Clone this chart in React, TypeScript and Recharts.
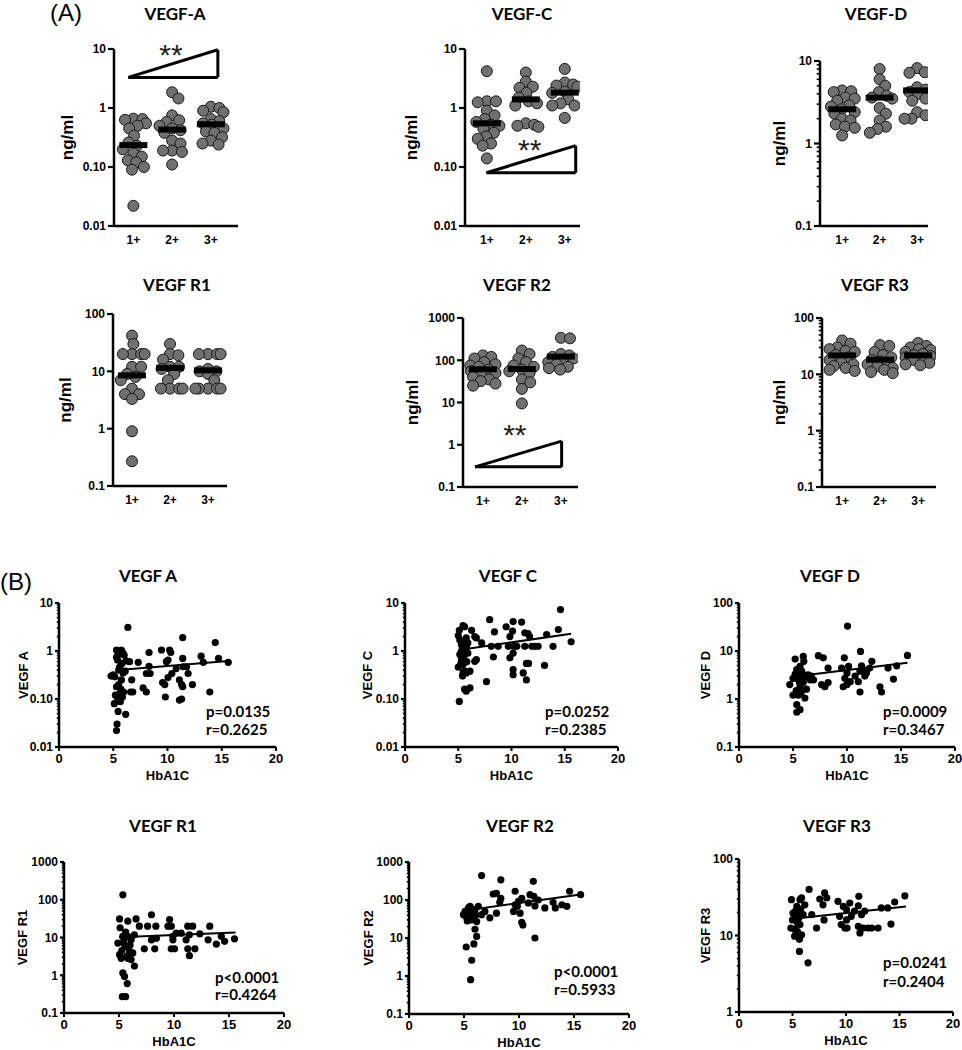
import React from 'react';
import { ScatterChart, Scatter, XAxis, YAxis, ReferenceLine, ReferenceDot } from 'recharts';

const SANS = '"Liberation Sans", Arial, sans-serif';
const TITLE = 'Lato, "Open Sans", sans-serif';

const groupLabels = ['1+', '2+', '3+'];
const hbTicks = [0, 5, 10, 15, 20];

// tick labels for the log axes
const ticks001to10 = ['0.01', '0.10', '1', '10'];
const ticks01to10 = ['0.1', '1', '10'];
const ticks01to100 = ['0.1', '1', '10', '100'];
const ticks01to1000 = ['0.1', '1', '10', '100', '1000'];
const ticks1to100 = ['1', '10', '100'];

// (A) serum levels (ng/ml) by group
const vegfA1 = [0.66, 0.65, 0.63, 0.55, 0.5, 0.45, 0.34, 0.26, 0.23, 0.2, 0.17, 0.15, 0.13, 0.12, 0.1, 0.09, 0.022];
const vegfA2 = [1.85, 1.45, 0.75, 0.62, 0.58, 0.5, 0.45, 0.42, 0.38, 0.28, 0.25, 0.19, 0.19, 0.18, 0.11];
const vegfA3 = [1.05, 1.0, 0.9, 0.85, 0.65, 0.6, 0.55, 0.52, 0.45, 0.4, 0.38, 0.32, 0.28, 0.25, 0.24];
const vegfAMed = [0.235, 0.43, 0.53];

const vegfC1 = [4.2, 1.3, 1.3, 1.25, 0.9, 0.75, 0.65, 0.58, 0.52, 0.5, 0.45, 0.38, 0.33, 0.3, 0.25, 0.23, 0.14];
const vegfC2 = [4.0, 2.8, 2.3, 2.2, 1.8, 1.5, 1.3, 1.2, 1.1, 0.55, 0.52, 0.5, 0.48];
const vegfC3 = [4.6, 2.7, 2.5, 2.4, 2.3, 1.9, 1.8, 1.4, 1.2, 1.1, 1.1, 0.68];
const vegfCMed = [0.55, 1.4, 1.82];

const vegfD1 = [4.4, 4.3, 4.2, 3.6, 3.5, 3.3, 2.9, 2.8, 2.6, 2.4, 2.3, 2.0, 1.9, 1.7, 1.6, 1.55, 1.25];
const vegfD2 = [8.0, 6.0, 5.0, 4.2, 3.8, 3.6, 3.5, 2.7, 2.3, 1.9, 1.6, 1.5, 1.35];
const vegfD3 = [8.2, 7.3, 7.2, 4.8, 4.5, 4.2, 4.0, 3.5, 3.3, 2.4, 2.2, 2.0, 2.0];
const vegfDMed = [2.6, 3.6, 4.4];

const r1G1 = [42, 30, 20, 20, 20, 20, 12, 12, 9, 8, 7, 5, 4, 4, 3.3, 0.9, 0.27];
const r1G2 = [30, 20, 19, 16, 12, 12, 11, 9, 7, 5, 5, 5, 5];
const r1G3 = [20, 20, 20, 20, 11, 10, 10, 9, 7, 5, 5, 5, 5, 5];
const r1Med = [8.5, 11.5, 10.4];

const r2G1 = [130, 120, 110, 90, 80, 75, 70, 60, 55, 50, 45, 40, 35, 32, 28, 25];
const r2G2 = [170, 140, 110, 90, 75, 70, 60, 55, 50, 35, 30, 21, 9.5];
const r2G3 = [340, 330, 140, 130, 120, 110, 100, 90, 80, 70, 65, 60];
const r2Med = [61, 62, 122];

const r3G1 = [40, 35, 30, 28, 26, 25, 22, 20, 18, 16, 15, 14, 13, 12, 11.5];
const r3G2 = [33, 32, 25, 22, 20, 18, 17, 16, 15, 14, 13, 12, 11, 10.5];
const r3G3 = [36, 32, 30, 28, 27, 25, 23, 22, 21, 20, 19, 18, 16, 15, 14.5];
const r3Med = [21.7, 18.2, 21.7];

// trend wedges: left tip, top right, bottom right; star = "**" anchor
const vegfAWedge = [[0.87, 3.3], [3.18, 9.7], [3.18, 3.3]];
const vegfAStar = [1.97, 8.0];
const vegfCWedge = [[0.99, 0.08], [3.28, 0.23], [3.28, 0.08]];
const vegfCStar = [2.1, 0.196];
const r2Wedge = [[0.8, 0.3], [3.02, 1.22], [3.02, 0.3]];
const r2Star = [1.82, 1.75];

// (B) HbA1C vs level
const bVegfA = [
  [4.8, 0.3], [5.0, 0.32], [5.3, 1.05], [5.3, 0.74], [5.4, 0.65], [5.6, 0.47], [5.75, 1.05], [5.9, 0.9],
  [6.0, 0.82], [5.1, 0.08], [5.35, 0.11], [5.6, 0.13], [5.3, 0.18], [5.75, 0.25], [5.9, 0.35], [5.45, 0.055],
  [5.35, 0.03], [5.3, 0.022], [6.15, 0.048], [5.65, 0.088], [5.95, 0.14], [5.15, 0.29], [6.35, 3.1], [6.5, 0.6],
  [6.7, 0.25], [6.8, 0.14], [6.6, 0.14], [7.3, 0.58], [7.75, 0.17], [8.05, 0.14], [8.05, 0.34], [8.3, 0.48],
  [8.4, 0.34], [8.3, 0.93], [9.45, 1.05], [9.55, 0.22], [9.75, 0.2], [9.8, 0.11], [10.05, 0.65], [10.2, 1.05],
  [10.3, 0.93], [9.9, 0.6], [10.4, 0.34], [10.05, 0.28], [10.8, 0.43], [11.1, 0.25], [11.3, 0.2], [11.4, 0.18],
  [11.3, 0.1], [11.1, 0.095], [11.4, 1.9], [11.4, 0.7], [11.45, 0.47], [11.75, 0.47], [11.9, 0.34], [12.3, 0.2],
  [13.1, 0.78], [13.3, 0.58], [13.9, 0.14], [14.4, 1.5], [14.7, 0.7], [15.6, 0.58], [5.5, 0.4], [5.2, 0.12],
  [5.5, 0.2], [5.7, 0.16], [5.8, 0.55], [6.1, 0.38], [5.45, 0.85], [6.2, 0.62], [5.6, 0.095], [5.85, 0.11],
];
const bVegfAFit = [[5.5, 0.4], [15.6, 0.62]];

const bVegfC = [
  [5.0, 2.1], [5.1, 2.7], [5.45, 3.4], [5.6, 3.2], [5.15, 1.7], [5.3, 1.35], [5.45, 1.07], [5.15, 0.85],
  [5.3, 0.66], [5.0, 0.46], [5.45, 0.52], [5.6, 0.85], [5.75, 1.25], [5.75, 1.87], [5.9, 1.47], [5.45, 0.35],
  [5.4, 0.3], [5.6, 0.38], [5.75, 0.35], [6.1, 0.38], [5.6, 0.16], [5.75, 0.145], [6.1, 0.17], [5.1, 0.089],
  [6.25, 2.7], [6.55, 2.0], [6.7, 1.87], [6.55, 0.61], [6.7, 0.66], [5.9, 0.9], [7.2, 1.47], [7.65, 0.23],
  [7.95, 4.5], [8.1, 1.25], [8.3, 0.75], [8.4, 2.5], [8.75, 1.25], [9.5, 3.2], [9.7, 1.25], [9.85, 2.0],
  [9.85, 0.72], [10.1, 2.6], [10.15, 4.1], [10.2, 1.25], [10.15, 0.9], [10.15, 0.41], [10.15, 0.32], [10.5, 1.25],
  [10.95, 4.0], [11.1, 0.35], [11.25, 2.4], [11.4, 0.55], [11.4, 0.25], [11.55, 2.3], [11.25, 1.25], [11.7, 2.0],
  [11.9, 1.25], [12.2, 1.25], [12.5, 1.25], [13.1, 0.5], [13.3, 2.2], [13.9, 1.25], [14.4, 2.8], [14.6, 7.3],
  [15.6, 1.55], [11.6, 0.55], [5.3, 1.0], [5.5, 0.75], [5.65, 1.1], [5.8, 0.6], [5.25, 0.55], [5.55, 1.6],
];
const bVegfCFit = [[5.1, 1.05], [15.6, 2.3]];

const bVegfD = [
  [4.7, 2.0], [5.0, 2.7], [5.2, 6.8], [5.35, 4.1], [5.0, 1.2], [5.35, 0.76], [5.35, 0.53], [5.65, 0.6],
  [5.5, 1.2], [5.65, 1.8], [5.8, 2.5], [5.8, 3.8], [5.95, 7.7], [6.0, 6.1], [5.65, 4.8], [5.5, 3.0],
  [5.95, 2.2], [6.1, 1.05], [6.25, 1.6], [6.4, 3.2], [6.6, 2.5], [6.7, 3.0], [6.9, 2.5], [7.35, 8.0],
  [7.8, 7.2], [7.65, 2.0], [7.95, 1.8], [8.25, 2.2], [8.25, 4.4], [9.5, 4.4], [9.65, 1.8], [9.75, 7.2],
  [9.8, 2.7], [10.0, 3.5], [10.05, 33], [10.15, 4.8], [10.0, 2.0], [10.3, 2.3], [10.75, 3.0], [11.05, 2.3],
  [11.2, 1.4], [11.2, 3.8], [11.25, 9.8], [11.35, 4.9], [11.5, 4.1], [11.65, 3.0], [11.8, 3.5], [12.1, 4.4],
  [12.3, 6.1], [13.05, 1.8], [13.2, 1.4], [13.8, 4.4], [14.3, 2.6], [14.6, 4.9], [15.6, 8.1], [5.3, 1.5],
  [5.6, 2.2], [5.9, 3.3], [5.45, 2.6], [6.05, 2.8], [5.2, 3.3], [5.75, 1.35],
];
const bVegfDFit = [[5.5, 3.0], [15.6, 5.7]];

const bR1 = [
  [5.35, 135], [5.05, 31], [5.1, 18], [4.9, 7.1], [5.05, 3.5], [5.2, 2.8], [5.35, 1.15], [5.5, 0.93],
  [5.75, 0.6], [5.3, 0.27], [5.6, 0.27], [5.8, 10.8], [5.8, 27], [5.65, 5.8], [5.95, 4.3], [6.1, 2.6],
  [6.25, 3.9], [6.4, 1.75], [5.8, 2.8], [5.35, 10.8], [6.1, 8.7], [6.4, 11.8], [6.55, 31], [6.85, 20],
  [7.3, 5], [7.6, 20], [7.95, 40], [7.95, 8.7], [8.25, 5], [8.35, 20], [8.4, 9.5], [9.45, 20],
  [9.6, 30], [9.75, 20], [9.75, 5], [9.9, 10.8], [10.05, 5], [10.2, 13], [9.9, 8.7], [10.65, 13],
  [11.1, 8.7], [11.25, 20], [11.25, 5], [11.4, 3.3], [11.4, 11.8], [11.7, 20], [11.9, 5], [12.35, 12.5],
  [13.25, 20], [13.1, 8.7], [13.85, 6.7], [14.3, 10.8], [14.6, 7.9], [15.5, 9.2], [5.5, 6.5], [5.25, 4.5],
  [5.6, 14], [5.7, 3.2], [5.45, 8.5], [6.0, 6.2],
];
const bR1Fit = [[5.0, 10.2], [15.6, 13.5]];

const bR2 = [
  [4.95, 41], [5.1, 50], [5.25, 34], [5.4, 62], [5.55, 41], [5.7, 30], [5.85, 45], [5.55, 68],
  [5.25, 50], [6.0, 55], [6.15, 27], [5.2, 5.8], [5.7, 2.6], [5.6, 0.8], [5.9, 7], [6.0, 17],
  [6.15, 11], [6.6, 440], [6.3, 68], [6.6, 41], [6.9, 50], [7.35, 34], [7.65, 144], [7.95, 150],
  [7.95, 45], [8.35, 340], [8.35, 110], [8.25, 87], [9.65, 170], [9.5, 50], [9.65, 75], [9.85, 68],
  [9.95, 92], [10.1, 45], [10.25, 26], [10.35, 22], [10.25, 110], [10.85, 84], [11.0, 138], [11.3, 310],
  [11.35, 125], [11.45, 70], [11.45, 10], [11.75, 100], [12.35, 62], [13.1, 87], [13.3, 62], [13.9, 75],
  [14.35, 68], [14.6, 170], [15.6, 138], [5.4, 38], [5.6, 48], [5.8, 36], [5.3, 28], [5.5, 55],
  [5.75, 58], [6.05, 40],
];
const bR2Fit = [[5.5, 55], [15.6, 140]];

const bR3 = [
  [4.9, 29.4], [4.85, 12.5], [5.0, 16], [5.05, 19.6], [5.2, 9.8], [5.4, 24], [5.4, 15.4], [5.45, 11.3],
  [5.55, 18.7], [5.65, 8.9], [5.65, 6.2], [5.7, 29.4], [5.85, 31], [5.7, 13.9], [5.85, 10.2], [6.0, 18.7],
  [6.15, 25.2], [6.45, 4.4], [6.55, 40], [6.8, 18.7], [7.25, 12.5], [7.55, 30], [7.85, 25.2], [7.95, 16],
  [8.0, 36], [8.2, 31], [9.25, 28], [9.4, 17.8], [9.55, 13.9], [9.75, 24], [9.9, 12.5], [10.05, 21.8],
  [10.05, 16], [10.1, 12.5], [10.35, 26.5], [10.5, 17.8], [10.8, 20.8], [11.15, 24.5], [11.15, 13.2], [11.2, 32.5],
  [11.3, 10.8], [11.45, 18.7], [11.6, 12.5], [11.75, 20.8], [12.05, 12.5], [12.4, 12.5], [13.0, 12.5], [13.3, 22.9],
  [13.9, 22.9], [14.2, 14.1], [14.55, 27.4], [15.5, 33], [5.3, 21], [5.5, 14], [5.6, 17], [5.2, 12],
  [5.75, 22], [5.35, 17.5],
];
const bR3Fit = [[5.5, 16.8], [15.6, 24]];

type Box = { x0: number; x1: number; y0: number; y1: number };

const AXIS = { stroke: '#000', strokeWidth: 2.5 };

function majorsOf(labels: string[]) {
  return labels.map(Number);
}

function logTicks(majors: number[], minor: boolean) {
  const out: number[] = [];
  majors.forEach((m, i) => {
    out.push(m);
    if (minor && i < majors.length - 1) {
      for (let k = 2; k <= 9; k++) out.push(+(k * m).toPrecision(6));
    }
  });
  return out;
}

// lay dots of one group side by side so they don't pile on top of each other
function swarm(vals: number[], cat: number, lo: number, hi: number, plotH: number, unitPx: number) {
  const pxPerDec = plotH / (Math.log10(hi) - Math.log10(lo));
  const placed: { dx: number; py: number }[] = [];
  const out: { x: number; y: number }[] = [];
  const sorted = [...vals].sort((a, b) => b - a);
  const gap = 8.5;
  for (const v of sorted) {
    const py = (Math.log10(hi) - Math.log10(v)) * pxPerDec;
    let best = 0;
    let bestCost = Infinity;
    for (let k = 0; k <= 18; k++) {
      const cands = k === 0 ? [0] : [k * 0.7, -k * 0.7];
      for (const dx of cands) {
        let cost = Math.abs(dx) * 0.03;
        for (const p of placed) {
          const d = Math.hypot(p.dx - dx, p.py - py);
          if (d < gap) cost += gap - d;
        }
        if (cost < bestCost) {
          bestCost = cost;
          best = dx;
        }
      }
    }
    placed.push({ dx: best, py });
    out.push({ x: cat + best / unitPx, y: v });
  }
  return out;
}

function makeYTick(labels: string[], size: number, margin: number, fontSize: number) {
  const majors = majorsOf(labels);
  return (props: any) => {
    const { x, y, payload } = props;
    const v = payload.value;
    const axisX = x + size + margin;
    const mi = majors.findIndex((m) => Math.abs(m - v) / m < 1e-6);
    const major = mi >= 0;
    return (
      <g>
        <line x1={axisX - (major ? size : size * 0.55)} x2={axisX} y1={y} y2={y} stroke="#000" strokeWidth={major ? 2.2 : 1.6} />
        {major && (
          <text x={x} y={y} dy="0.36em" textAnchor="end" fontFamily={SANS} fontWeight={700} fontSize={fontSize} fill="#000">
            {labels[mi]}
          </text>
        )}
      </g>
    );
  };
}

type DotPanel = {
  title: string; tx: number; ty: number;
  groups: number[][]; med: number[]; labels: string[]; minor: boolean;
  box: Box; xd: [number, number]; gap: number;
  wedge?: number[][]; star?: number[];
};

const dotPanels: DotPanel[] = [
  { title: 'VEGF-A', tx: 175, ty: 20, groups: [vegfA1, vegfA2, vegfA3], med: vegfAMed, labels: ticks001to10, minor: false,
    box: { x0: 114, x1: 238, y0: 49, y1: 226 }, xd: [0.5, 3.7], gap: 47, wedge: vegfAWedge, star: vegfAStar },
  { title: 'VEGF-C', tx: 522, ty: 20, groups: [vegfC1, vegfC2, vegfC3], med: vegfCMed, labels: ticks001to10, minor: false,
    box: { x0: 465, x1: 580, y0: 49, y1: 226 }, xd: [0.44, 3.39], gap: 54, wedge: vegfCWedge, star: vegfCStar },
  { title: 'VEGF-D', tx: 876, ty: 20, groups: [vegfD1, vegfD2, vegfD3], med: vegfDMed, labels: ticks01to10, minor: true,
    box: { x0: 820, x1: 928, y0: 61, y1: 226 }, xd: [0.41, 3.29], gap: 41 },
  { title: 'VEGF R1', tx: 177, ty: 291, groups: [r1G1, r1G2, r1G3], med: r1Med, labels: ticks01to100, minor: false,
    box: { x0: 113, x1: 227, y0: 314, y1: 486 }, xd: [0.5, 3.5], gap: 48 },
  { title: 'VEGF R2', tx: 517, ty: 291, groups: [r2G1, r2G2, r2G3], med: r2Med, labels: ticks01to1000, minor: false,
    box: { x0: 463, x1: 578, y0: 318, y1: 487 }, xd: [0.49, 3.44], gap: 51, wedge: r2Wedge, star: r2Star },
  { title: 'VEGF R3', tx: 875, ty: 291, groups: [r3G1, r3G2, r3G3], med: r3Med, labels: ticks01to100, minor: true,
    box: { x0: 822, x1: 936, y0: 318, y1: 487 }, xd: [0.47, 3.47], gap: 43 },
];

type CorrPanel = {
  title: string; tx: number; ty: number; yLabel: string;
  pts: number[][]; fit: number[][]; labels: string[];
  box: Box; gap: number; p: string; r: string; px: number; py: number; ry: number;
};

const corrPanels: CorrPanel[] = [
  { title: 'VEGF A', tx: 148, ty: 582, yLabel: 'VEGF A', pts: bVegfA, fit: bVegfAFit, labels: ticks001to10,
    box: { x0: 59, x1: 276, y0: 603, y1: 747 }, gap: 36, p: 'p=0.0135', r: 'r=0.2625', px: 206, py: 717, ry: 735 },
  { title: 'VEGF C', tx: 508, ty: 582, yLabel: 'VEGF C', pts: bVegfC, fit: bVegfCFit, labels: ticks001to10,
    box: { x0: 405, x1: 618, y0: 603, y1: 747 }, gap: 38, p: 'p=0.0252', r: 'r=0.2385', px: 545, py: 717, ry: 735 },
  { title: 'VEGF D', tx: 830, ty: 582, yLabel: 'VEGF D', pts: bVegfD, fit: bVegfDFit, labels: ticks01to100,
    box: { x0: 739, x1: 955, y0: 603, y1: 747 }, gap: 34, p: 'p=0.0009', r: 'r=0.3467', px: 883, py: 717, ry: 735 },
  { title: 'VEGF R1', tx: 163, ty: 832, yLabel: 'VEGF R1', pts: bR1, fit: bR1Fit, labels: ticks01to1000,
    box: { x0: 64, x1: 284, y0: 862, y1: 1013 }, gap: 42, p: 'p<0.0001', r: 'r=0.4264', px: 215, py: 983, ry: 1000 },
  { title: 'VEGF R2', tx: 520, ty: 832, yLabel: 'VEGF R2', pts: bR2, fit: bR2Fit, labels: ticks01to1000,
    box: { x0: 409, x1: 629, y0: 862, y1: 1014 }, gap: 41, p: 'p<0.0001', r: 'r=0.5933', px: 554, py: 977, ry: 995 },
  { title: 'VEGF R3', tx: 837, ty: 832, yLabel: 'VEGF R3', pts: bR3, fit: bR3Fit, labels: ticks1to100,
    box: { x0: 739, x1: 953, y0: 859, y1: 1012 }, gap: 34, p: 'p=0.0241', r: 'r=0.2404', px: 883, py: 968, ry: 987 },
];

function DotPlot({ p }: { p: DotPanel }) {
  const yw = 72, mt = 14, mr = 14, xh = 30;
  const left = p.box.x0 - yw;
  const top = p.box.y0 - mt;
  const width = p.box.x1 - left + mr;
  const height = p.box.y1 - top + xh;
  const majors = majorsOf(p.labels);
  const lo = majors[0];
  const hi = majors[majors.length - 1];
  const unitPx = (p.box.x1 - p.box.x0) / (p.xd[1] - p.xd[0]);
  const series = p.groups.map((vals, i) => swarm(vals, i + 1, lo, hi, p.box.y1 - p.box.y0, unitPx));
  const medPts = p.med.map((m, i) => ({ x: i + 1, y: m }));
  return (
    <div style={{ position: 'absolute', left, top }}>
      <ScatterChart width={width} height={height} margin={{ top: mt, right: mr, bottom: 0, left: 0 }}>
        <XAxis type="number" dataKey="x" domain={p.xd} ticks={[1, 2, 3]} interval={0} allowDataOverflow
          tickFormatter={(v: number) => groupLabels[v - 1]} axisLine={AXIS} tickLine={false} tickSize={5} tickMargin={4} height={xh}
          tick={{ fontFamily: SANS, fontWeight: 700, fontSize: 12, fill: '#000' }} />
        <YAxis type="number" dataKey="y" scale="log" domain={[lo, hi]} allowDataOverflow ticks={logTicks(majors, p.minor)} interval={0}
          width={yw} axisLine={AXIS} tickLine={false} tickSize={6} tickMargin={2} tick={makeYTick(p.labels, 6, 2, 12)}
          label={{ value: 'ng/ml', angle: -90, position: 'insideLeft', offset: yw - p.gap, fill: '#000', fontSize: 17, fontWeight: 700, fontFamily: SANS, style: { textAnchor: 'middle' } }} />
        {series.map((s, i) => (
          <Scatter key={i} data={s} isAnimationActive={false}
            shape={(sp: any) => <circle cx={sp.cx} cy={sp.cy} r={5.5} fill="#707070" stroke="#1a1a1a" strokeWidth={1} />} />
        ))}
        <Scatter data={medPts} isAnimationActive={false}
          shape={(sp: any) => <rect x={sp.cx - 14} y={sp.cy - 3} width={28} height={6} fill="#000" />} />
        {p.wedge && [0, 1, 2].map((i) => {
          const a = p.wedge![i];
          const b = p.wedge![(i + 1) % 3];
          return (
            <ReferenceLine key={i} segment={[{ x: a[0], y: a[1] }, { x: b[0], y: b[1] }]} stroke="#000" strokeWidth={3} ifOverflow="visible" />
          );
        })}
        {p.star && (
          <ReferenceDot x={p.star[0]} y={p.star[1]} r={0} fill="none" stroke="none" ifOverflow="visible"
            label={{ value: '**', position: 'center', fill: '#222', fontSize: 30, fontFamily: SANS }} />
        )}
      </ScatterChart>
    </div>
  );
}

function CorrPlot({ p }: { p: CorrPanel }) {
  const yw = 56, mt = 14, mr = 14, xh = 42;
  const left = p.box.x0 - yw;
  const top = p.box.y0 - mt;
  const width = p.box.x1 - left + mr;
  const height = p.box.y1 - top + xh;
  const majors = majorsOf(p.labels);
  const lo = majors[0];
  const hi = majors[majors.length - 1];
  const data = p.pts.map(([x, y]) => ({ x, y }));
  return (
    <div style={{ position: 'absolute', left, top }}>
      <ScatterChart width={width} height={height} margin={{ top: mt, right: mr, bottom: 0, left: 0 }}>
        <XAxis type="number" dataKey="x" domain={[0, 20]} ticks={hbTicks} interval={0} allowDataOverflow
          axisLine={AXIS} tickLine={{ stroke: '#000', strokeWidth: 2 }} tickSize={4} tickMargin={3} height={xh}
          tick={{ fontFamily: SANS, fontWeight: 700, fontSize: 13, fill: '#000' }}
          label={{ value: 'HbA1C', position: 'insideBottom', offset: 9, fill: '#000', fontSize: 13, fontWeight: 700, fontFamily: SANS }} />
        <YAxis type="number" dataKey="y" scale="log" domain={[lo, hi]} allowDataOverflow ticks={logTicks(majors, true)} interval={0}
          width={yw} axisLine={AXIS} tickLine={false} tickSize={4} tickMargin={2} tick={makeYTick(p.labels, 4, 2, 12)}
          label={{ value: p.yLabel, angle: -90, position: 'insideLeft', offset: yw - p.gap, fill: '#000', fontSize: 13, fontWeight: 700, fontFamily: SANS, style: { textAnchor: 'middle' } }} />
        <Scatter data={data} isAnimationActive={false}
          shape={(sp: any) => <circle cx={sp.cx} cy={sp.cy} r={3.6} fill="#000" />} />
        <ReferenceLine segment={[{ x: p.fit[0][0], y: p.fit[0][1] }, { x: p.fit[1][0], y: p.fit[1][1] }]} stroke="#000" strokeWidth={2} ifOverflow="visible" />
      </ScatterChart>
    </div>
  );
}

export default function App() {
  return (
    <div style={{ position: 'absolute', left: 0, top: 0, width: 962, height: 1050, overflow: 'hidden', background: '#fff' }}>
      {dotPanels.map((p) => <DotPlot key={p.title} p={p} />)}
      {corrPanels.map((p) => <CorrPlot key={p.title + p.ty} p={p} />)}
      <svg width={962} height={1050} style={{ position: 'absolute', left: 0, top: 0, pointerEvents: 'none' }}>
        <text x={50} y={21} fontFamily={SANS} fontSize={24} fill="#000">(A)</text>
        <text x={0} y={590} fontFamily={SANS} fontSize={24} fill="#000">(B)</text>
        {dotPanels.map((p) => (
          <text key={p.title} x={p.tx} y={p.ty} textAnchor="middle" fontFamily={TITLE} fontWeight={700} fontSize={17} fill="#000">{p.title}</text>
        ))}
        {corrPanels.map((p) => (
          <g key={p.title + p.ty}>
            <text x={p.tx} y={p.ty} textAnchor="middle" fontFamily={TITLE} fontWeight={700} fontSize={17} fill="#000">{p.title}</text>
            <text x={p.px} y={p.py} fontFamily={TITLE} fontWeight={700} fontSize={15} fill="#000">{p.p}</text>
            <text x={p.px} y={p.ry} fontFamily={TITLE} fontWeight={700} fontSize={15} fill="#000">{p.r}</text>
          </g>
        ))}
      </svg>
    </div>
  );
}
